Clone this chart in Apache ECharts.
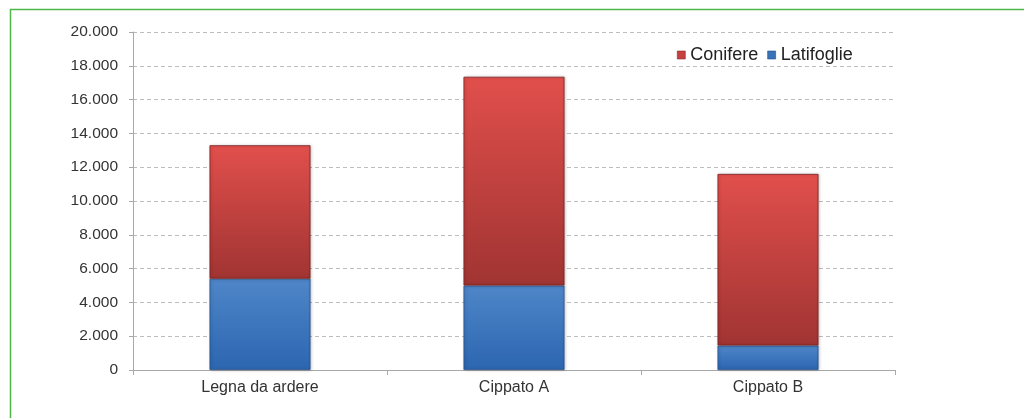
<!DOCTYPE html>
<html>
<head>
<meta charset="utf-8">
<script src="https://cdn.jsdelivr.net/npm/echarts@6/dist/echarts.min.js"></script>
<style>
  html, body { margin: 0; padding: 0; background: #fff; }
  #chart { width: 1024px; height: 418px; }
</style>
</head>
<body>
<div id="chart"></div>
<script>
// Wood fuel quantities by type, split into broadleaf (Latifoglie) and conifer (Conifere)
const categories = ['Legna da ardere', 'Cippato A', 'Cippato B'];
const latifoglie = [5400, 5000, 1450];
const conifere = [7900, 12350, 10150];
const yTicks = { min: 0, max: 20000, interval: 2000 };

const FONT = '"Liberation Sans", Arial, sans-serif';

function grad(top, bottom) {
  return new echarts.graphic.LinearGradient(0, 0, 0, 1, [
    { offset: 0, color: top },
    { offset: 1, color: bottom }
  ]);
}

function fmtThousands(v) {
  return String(v).replace(/\B(?=(\d{3})+(?!\d))/g, '.');
}

const chart = echarts.init(document.getElementById('chart'), null, { renderer: 'canvas' });

chart.setOption({
  animation: false,
  backgroundColor: '#ffffff',
  textStyle: { fontFamily: FONT },
  graphic: [
    {
      type: 'polyline',
      shape: { points: [[10.5, 418], [10.5, 9.5], [1024, 9.5]] },
      style: { stroke: '#4db848', lineWidth: 1.5, fill: null },
      silent: true
    }
  ],
  legend: {
    data: [
      { name: 'Conifere', itemStyle: { color: '#c64040', borderColor: '#8a2a2a', borderWidth: 0.6 } },
      { name: 'Latifoglie', itemStyle: { color: '#3a72b8', borderColor: '#24528f', borderWidth: 0.6 } }
    ],
    left: 672,
    top: 41,
    itemWidth: 8,
    itemHeight: 8,
    itemGap: 9,
    icon: 'rect',
    textStyle: { fontSize: 18, color: '#222', fontFamily: FONT }
  },
  grid: { left: 133, right: 129, top: 32, bottom: 48, containLabel: false },
  xAxis: {
    type: 'category',
    data: categories,
    boundaryGap: true,
    axisLine: { lineStyle: { color: '#a8a8a8', width: 1 } },
    axisTick: { show: true, length: 5, lineStyle: { color: '#a8a8a8' } },
    axisLabel: { fontSize: 16, color: '#333', margin: 10, fontFamily: FONT }
  },
  yAxis: {
    type: 'value',
    min: yTicks.min,
    max: yTicks.max,
    interval: yTicks.interval,
    axisLine: { show: true, lineStyle: { color: '#a8a8a8', width: 1 } },
    axisTick: { show: true, length: 4, lineStyle: { color: '#a8a8a8' } },
    axisLabel: {
      fontSize: 15.5, color: '#333', margin: 15, fontFamily: FONT,
      formatter: fmtThousands
    },
    splitLine: { show: true, lineStyle: { color: '#bdbdbd', type: [4, 3], width: 1 } }
  },
  series: [
    {
      name: 'Latifoglie',
      type: 'bar',
      stack: 'tot',
      barWidth: 101,
      data: latifoglie,
      itemStyle: {
        color: grad('#4f86c9', '#2c66b0'),
        borderColor: '#24528f',
        borderWidth: 0.8,
        shadowColor: 'rgba(0,0,0,0.25)',
        shadowBlur: 3,
        shadowOffsetX: 1
      }
    },
    {
      name: 'Conifere',
      type: 'bar',
      stack: 'tot',
      barWidth: 101,
      data: conifere,
      itemStyle: {
        color: grad('#e14f4c', '#a03432'),
        borderColor: '#7d2222',
        borderWidth: 0.8,
        shadowColor: 'rgba(0,0,0,0.25)',
        shadowBlur: 3,
        shadowOffsetX: 1
      }
    }
  ]
});
</script>
</body>
</html>
